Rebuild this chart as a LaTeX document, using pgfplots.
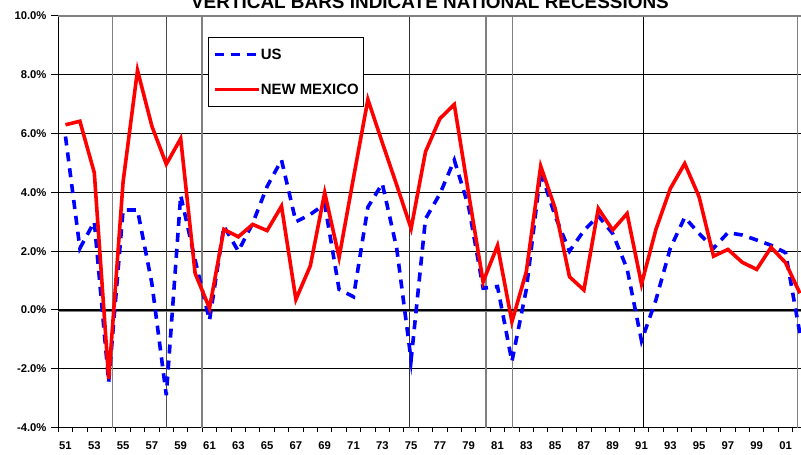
\documentclass[border=0pt]{standalone}
\usepackage{pgfplots}
\pgfplotsset{compat=1.18}
\usepackage{fontspec}
\setmainfont{Liberation Sans}
\begin{document}
\begin{tikzpicture}[x=1bp,y=1bp]
\useasboundingbox (0,0) rectangle (801,455);
\clip (0,0) rectangle (801,455);
\node[anchor=base, font=\fontsize{19}{22}\selectfont\bfseries, inner sep=0] at (430,446.7) {VERTICAL BARS INDICATE NATIONAL RECESSIONS};
\begin{axis}[
  at={(58.3bp,27.4bp)}, anchor=south west, scale only axis,
  width=748.8bp, height=411.6bp,
  xmin=1950.5, xmax=2002.5, ymin=-4, ymax=10,
  axis x line*=bottom, axis y line*=left,
  axis line style={black, line width=1.2bp, -},
  xtick={1951,1953,...,2001},
  xticklabels={51,53,55,57,59,61,63,65,67,69,71,73,75,77,79,81,83,85,87,89,91,93,95,97,99,01},
  minor xtick={1950.5,1951.5,...,2002.5},
  major x tick style={draw=none},
  minor x tick style={black, line width=1bp},
  minor tick length=4bp,
  major tick length=7bp,
  y tick style={black, line width=1bp},
  tick align=outside,
  ytick={-4,-2,...,10},
  yticklabels={-4.0\%,-2.0\%,0.0\%,2.0\%,4.0\%,6.0\%,8.0\%,10.0\%},
  ymajorgrids, grid style={black, line width=0.9bp},
  tick label style={font=\fontsize{11.3}{13}\selectfont\bfseries},
  xticklabel style={anchor=north, inner sep=0, yshift=-7.1bp},
  yticklabel style={anchor=east, inner sep=0, xshift=-4.6bp},
  clip=false,
  legend style={at={(0.2003,0.9497)}, anchor=north west, draw=black, line width=0.8bp,
    inner xsep=4.5bp, inner ysep=12bp, row sep=24.3bp,
    font=\fontsize{15}{17}\selectfont\bfseries,
    nodes={inner sep=0, text height=10.7bp, text depth=0bp},
    /tikz/every even column/.append style={column sep=3bp}},
  legend cell align=left,
  legend image code/.code={\draw[#1] (0bp,0bp) -- (44bp,0bp);},
]
% recession lines
\draw[gray, line width=1.3bp] (axis cs:1954.24,-4) -- (axis cs:1954.24,10);
\draw[black!70, line width=1.3bp] (axis cs:1957.99,-4) -- (axis cs:1957.99,10);
\draw[gray, line width=1.3bp] (axis cs:1960.47,-4) -- (axis cs:1960.47,10);
\draw[black!80, line width=1.3bp] (axis cs:1974.88,-4) -- (axis cs:1974.88,10);
\draw[gray, line width=1.3bp] (axis cs:1980.21,-4) -- (axis cs:1980.21,10);
\draw[gray, line width=1.3bp] (axis cs:1982.06,-4) -- (axis cs:1982.06,10);
\draw[black, line width=1.1bp] (axis cs:1991.13,-4) -- (axis cs:1991.13,10);
\draw[gray, line width=1.3bp] (axis cs:2001.85,-4) -- (axis cs:2001.85,10);
% top border and zero line
\draw[gray, line width=1.5bp] (axis cs:1950.5,10) -- (axis cs:2002.5,10);
\draw[gray, line width=1bp] ([yshift=-2bp]axis cs:1950.5,0) -- ([yshift=-2bp]axis cs:2002.5,0);
\draw[black, line width=2.2bp] (axis cs:1950.5,0) -- (axis cs:2002.5,0);

\addplot[blue, line width=3.6bp, dash pattern=on 9bp off 7bp] coordinates {
(1951,5.9) (1952,2.1) (1953,3.0) (1954,-2.45) (1955,3.4) (1956,3.4) (1957,0.9) (1958,-2.9)
(1959,3.9) (1960,1.7) (1961,-0.35) (1962,2.85) (1963,2.0) (1964,2.95) (1965,4.2) (1966,5.1)
(1967,3.0) (1968,3.25) (1969,3.6) (1970,0.7) (1971,0.45) (1972,3.5) (1973,4.3) (1974,2.1)
(1975,-1.7) (1976,3.1) (1977,3.95) (1978,5.1) (1979,3.5) (1980,0.74) (1981,0.8) (1982,-1.75)
(1983,0.7) (1984,4.7) (1985,3.2) (1986,2.0) (1987,2.7) (1988,3.2) (1989,2.6) (1990,1.4)
(1991,-1.05) (1992,0.34) (1993,2.1) (1994,3.15) (1995,2.6) (1996,2.1) (1997,2.63) (1998,2.55)
(1999,2.38) (2000,2.2) (2001,1.95) (2002,-0.8)
};
\addlegendentry{US}
\addplot[red, line width=3.6bp] coordinates {
(1951,6.3) (1952,6.42) (1953,4.67) (1954,-2.35) (1955,4.36) (1956,8.15) (1957,6.25) (1958,4.96)
(1959,5.83) (1960,1.25) (1961,0.06) (1962,2.74) (1963,2.49) (1964,2.91) (1965,2.70) (1966,3.53)
(1967,0.36) (1968,1.5) (1969,3.99) (1970,1.79) (1971,4.5) (1972,7.16) (1973,5.69) (1974,4.25)
(1975,2.77) (1976,5.38) (1977,6.51) (1978,6.99) (1979,3.94) (1980,0.96) (1981,2.19) (1982,-0.40)
(1983,1.30) (1984,4.89) (1985,3.46) (1986,1.13) (1987,0.68) (1988,3.45) (1989,2.72) (1990,3.28)
(1991,0.88) (1992,2.74) (1993,4.13) (1994,4.98) (1995,3.85) (1996,1.83) (1997,2.06) (1998,1.62)
(1999,1.38) (2000,2.13) (2001,1.61) (2002,0.57)
};
\addlegendentry{NEW MEXICO}
\end{axis}
\end{tikzpicture}
\end{document}
